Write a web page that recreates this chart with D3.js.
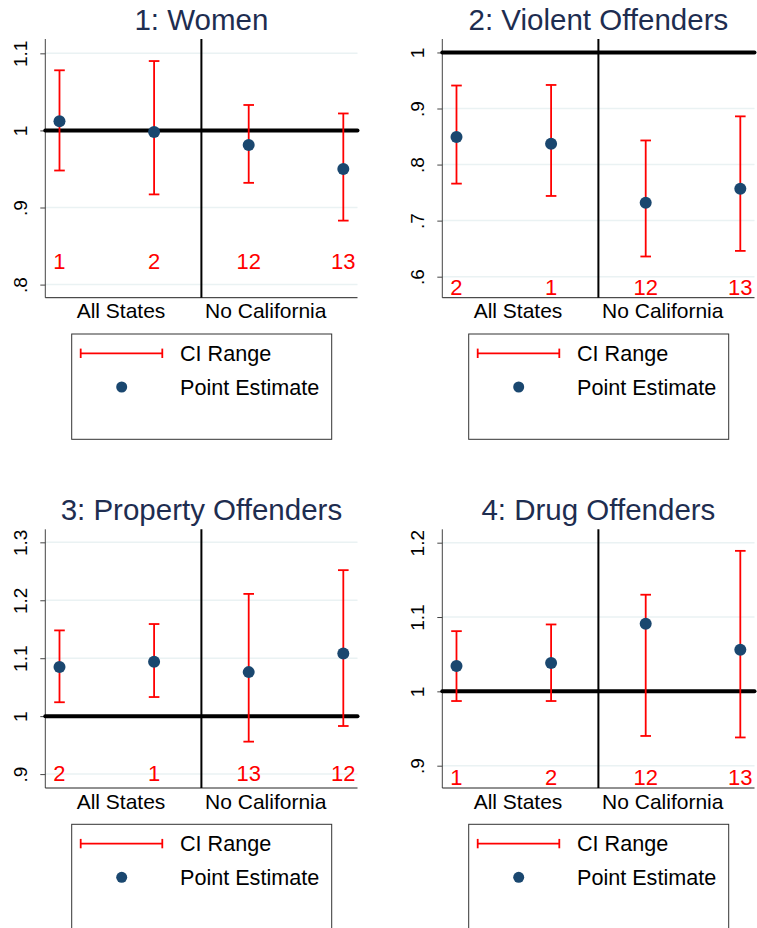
<!DOCTYPE html>
<html>
<head>
<meta charset="utf-8">
<script src="https://cdn.jsdelivr.net/npm/d3@7"></script>
<style>
  html, body { margin: 0; padding: 0; background: #fff; }
  svg { display: block; font-family: "Liberation Sans", Arial, Helvetica, sans-serif; }
</style>
</head>
<body>
<svg id="chart" width="757" height="928"></svg>
<script>
// Panel titles and the two sample groups shown along the x axis
const panelTitles = ["1: Women", "2: Violent Offenders", "3: Property Offenders", "4: Drug Offenders"];
const groupLabels = ["All States", "No California"];

// Specification number printed under each estimate
const specLabels = [
  ["1", "2", "12", "13"],
  ["2", "1", "12", "13"],
  ["2", "1", "13", "12"],
  ["1", "2", "12", "13"]
];

// Point estimates and confidence interval bounds, one row per panel
const pointEst = [
  [1.012, 0.998, 0.981, 0.950],
  [0.849, 0.837, 0.732, 0.757],
  [1.085, 1.094, 1.076, 1.108],
  [1.034, 1.038, 1.091, 1.056]
];
const ciLow = [
  [0.948, 0.917, 0.932, 0.883],
  [0.766, 0.744, 0.636, 0.646],
  [1.024, 1.033, 0.956, 0.983],
  [0.987, 0.987, 0.940, 0.938]
];
const ciHigh = [
  [1.078, 1.090, 1.033, 1.022],
  [0.941, 0.942, 0.843, 0.886],
  [1.148, 1.159, 1.211, 1.252],
  [1.081, 1.090, 1.130, 1.189]
];

// y-axis ticks and ranges per panel
const yTicks = [
  [0.8, 0.9, 1, 1.1],
  [0.6, 0.7, 0.8, 0.9, 1],
  [0.9, 1, 1.1, 1.2, 1.3],
  [0.9, 1, 1.1, 1.2]
];
const yDomains = [
  [0.783, 1.1186],
  [0.5625, 1.024],
  [0.876, 1.3225],
  [0.870, 1.218]
];
// height at which the specification numbers sit, in data units
const specLabelY = [0.83, 0.581, 0.901, 0.8846];
const referenceValue = 1;

const legendItems = ["CI Range", "Point Estimate"];

const RED = "#ff0000";
const NAVY = "#1a476f";
const TITLE = "#1e2d50";
const GRID = "#eaf2f3";

const svg = d3.select("#chart");
svg.append("rect").attr("width", 757).attr("height", 928).attr("fill", "#fff");

const fmtTick = v => (v === 1 ? "1" : d3.format(".1f")(v).replace(/^0\./, "."));

// plot-region geometry of panel 1; others are offset from it
const base = { left: 45.3, right: 357.5, top: 39, bottom: 297.7 };
const offsets = [[0, 0], [397, 0], [0, 490.3], [397, 490.3]];

panelTitles.forEach((title, p) => {
  const [dx, dy] = offsets[p];
  const L = base.left + dx, R = base.right + dx, T = base.top + dy, B = base.bottom + dy;
  const g = svg.append("g");

  const x = d3.scaleLinear().domain([0.85, 4.15]).range([L, R]);
  const y = d3.scaleLinear().domain(yDomains[p]).range([B, T]);
  const idx = d3.range(4);

  // title
  g.append("text")
    .attr("x", (L + R) / 2).attr("y", T - 9)
    .attr("text-anchor", "middle")
    .attr("font-size", 29.5).attr("fill", TITLE)
    .text(title);

  // gridlines
  g.selectAll(".grid").data(yTicks[p]).enter().append("line")
    .attr("x1", L).attr("x2", R)
    .attr("y1", d => y(d)).attr("y2", d => y(d))
    .attr("stroke", GRID).attr("stroke-width", 1.5);

  // y axis
  const yAxis = d3.axisLeft(y).tickValues(yTicks[p]).tickSize(5).tickFormat(fmtTick);
  const ya = g.append("g").attr("transform", `translate(${L},0)`).call(yAxis);
  ya.attr("font-size", null).attr("font-family", null);
  ya.select(".domain").attr("stroke", "#444").attr("stroke-width", 1).attr("d", `M0,${T}V${B}`);
  ya.selectAll(".tick line").attr("stroke", "#444");
  ya.selectAll(".tick text")
    .attr("x", null).attr("dy", null)
    .attr("transform", "translate(-18,0) rotate(-90)")
    .attr("text-anchor", "middle")
    .attr("font-size", 19).attr("fill", "#000");

  // x axis baseline and group labels
  g.append("line").attr("x1", L).attr("x2", R).attr("y1", B).attr("y2", B)
    .attr("stroke", "#222").attr("stroke-width", 1);
  const groupPos = [1.65, 3.18];
  g.selectAll(".grp").data(groupLabels).enter().append("text")
    .attr("x", (d, i) => x(groupPos[i])).attr("y", B + 20.6)
    .attr("text-anchor", "middle").attr("font-size", 21).attr("fill", "#000")
    .text(d => d);

  // reference line at 1
  g.append("line")
    .attr("x1", L).attr("x2", R)
    .attr("y1", y(referenceValue)).attr("y2", y(referenceValue))
    .attr("stroke", "#000").attr("stroke-width", 4).attr("stroke-linecap", "round");

  // divider between the two samples
  g.append("line")
    .attr("x1", x(2.5)).attr("x2", x(2.5)).attr("y1", T).attr("y2", B)
    .attr("stroke", "#000").attr("stroke-width", 2);

  // confidence intervals
  const ci = g.selectAll(".ci").data(idx).enter().append("g");
  ci.append("line")
    .attr("x1", i => x(i + 1)).attr("x2", i => x(i + 1))
    .attr("y1", i => y(ciLow[p][i])).attr("y2", i => y(ciHigh[p][i]))
    .attr("stroke", RED).attr("stroke-width", 1.8);
  ci.append("line")
    .attr("x1", i => x(i + 1) - 5.3).attr("x2", i => x(i + 1) + 5.3)
    .attr("y1", i => y(ciLow[p][i])).attr("y2", i => y(ciLow[p][i]))
    .attr("stroke", RED).attr("stroke-width", 1.8);
  ci.append("line")
    .attr("x1", i => x(i + 1) - 5.3).attr("x2", i => x(i + 1) + 5.3)
    .attr("y1", i => y(ciHigh[p][i])).attr("y2", i => y(ciHigh[p][i]))
    .attr("stroke", RED).attr("stroke-width", 1.8);

  // point estimates
  g.selectAll(".pt").data(idx).enter().append("circle")
    .attr("cx", i => x(i + 1)).attr("cy", i => y(pointEst[p][i]))
    .attr("r", 6).attr("fill", NAVY);

  // specification numbers
  g.selectAll(".spec").data(idx).enter().append("text")
    .attr("x", i => x(i + 1)).attr("y", y(specLabelY[p]) + 7.9)
    .attr("text-anchor", "middle").attr("font-size", 22).attr("fill", RED)
    .text(i => specLabels[p][i]);

  // legend
  const lx = 71.7 + dx, ly = 334 + dy;
  const lg = g.append("g").attr("transform", `translate(${lx},${ly})`);
  lg.append("rect").attr("x", 0).attr("y", 0).attr("width", 260).attr("height", 105.3)
    .attr("fill", "#fff").attr("stroke", "#333").attr("stroke-width", 1);
  lg.append("line").attr("x1", 9).attr("x2", 90.6).attr("y1", 19.3).attr("y2", 19.3)
    .attr("stroke", RED).attr("stroke-width", 1.8);
  [9, 90.6].forEach(cx => lg.append("line")
    .attr("x1", cx).attr("x2", cx).attr("y1", 14.6).attr("y2", 24)
    .attr("stroke", RED).attr("stroke-width", 1.8));
  lg.append("circle").attr("cx", 50).attr("cy", 53).attr("r", 5.5).attr("fill", NAVY);
  lg.selectAll(".lt").data(legendItems).enter().append("text")
    .attr("x", 108.3).attr("y", (d, i) => [19.3, 53][i] + 7.7)
    .attr("font-size", 21.6).attr("fill", "#000")
    .text(d => d);
});
</script>
</body>
</html>
